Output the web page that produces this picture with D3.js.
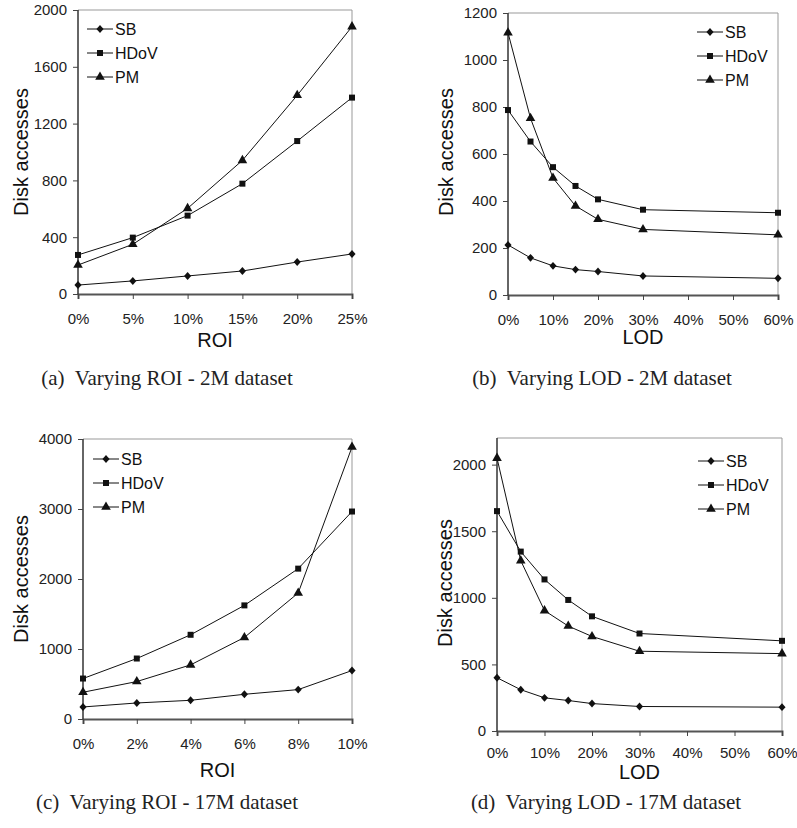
<!DOCTYPE html>
<html>
<head>
<meta charset="utf-8">
<script src="https://cdn.jsdelivr.net/npm/d3@7"></script>
<style>
  body { margin: 0; background: #fff; }
  svg { display: block; }
  .tick text { font-family: "Liberation Sans", Arial, sans-serif; font-size: 15px; fill: #222; }
</style>
</head>
<body>
<svg id="fig" width="797" height="828"></svg>
<script>
// series names
const seriesNames = ['SB', 'HDoV', 'PM'];

// (a) varying ROI - 2M
const roiA = [0, 5, 10, 15, 20, 25];
const sbA = [63, 92, 127, 162, 225, 282];
const hdovA = [275, 397, 552, 777, 1077, 1383];
const pmA = [204, 350, 603, 941, 1399, 1883];

// (b) varying LOD - 2M
const lodB = [0, 5, 10, 15, 20, 30, 60];
const sbB = [213, 158, 124, 108, 100, 81, 71];
const hdovB = [787, 653, 544, 464, 407, 363, 350];
const pmB = [1116, 752, 498, 379, 322, 279, 256];

// (c) varying ROI - 17M
const roiC = [0, 2, 4, 6, 8, 10];
const sbC = [172, 229, 267, 353, 420, 692];
const hdovC = [578, 864, 1203, 1623, 2148, 2964];
const pmC = [382, 535, 773, 1165, 1800, 3885];

// (d) varying LOD - 17M
const lodD = [0, 5, 10, 15, 20, 30, 60];
const sbD = [400, 310, 249, 229, 206, 184, 179];
const hdovD = [1651, 1347, 1138, 984, 861, 732, 677];
const pmD = [2049, 1279, 904, 788, 710, 599, 581];

// tick values
const ticksXa = [0, 5, 10, 15, 20, 25];
const ticksXb = [0, 10, 20, 30, 40, 50, 60];
const ticksXc = [0, 2, 4, 6, 8, 10];
const ticksYa = [0, 400, 800, 1200, 1600, 2000];
const ticksYb = [0, 200, 400, 600, 800, 1000, 1200];
const ticksYc = [0, 1000, 2000, 3000, 4000];
const ticksYd = [0, 500, 1000, 1500, 2000];

const captions = [
  '(a)  Varying ROI - 2M dataset',
  '(b)  Varying LOD - 2M dataset',
  '(c)  Varying ROI - 17M dataset',
  '(d)  Varying LOD - 17M dataset'
];

// diamond a bit squatter than d3's default one
const diamond = {
  draw(ctx, size) {
    const h = Math.sqrt(size) * 0.72, w = h * 0.9;
    ctx.moveTo(0, -h);
    ctx.lineTo(w, 0);
    ctx.lineTo(0, h);
    ctx.lineTo(-w, 0);
    ctx.closePath();
  }
};
const symbols = [diamond, d3.symbolSquare, d3.symbolTriangle];
const symSizes = [30, 36, 40];

const svg = d3.select('#fig');

const drawPanel = function(p) {
  let g = svg.append('g');

  let x = d3.scaleLinear().domain(p.xDomain).range([p.left, p.right]);
  let y = d3.scaleLinear().domain(p.yDomain).range([p.bottom, p.top]);

  // light frame (top / right)
  g.append('path')
    .attr('d', `M${p.left},${p.top}H${p.right}V${p.bottom}`)
    .attr('fill', 'none')
    .attr('stroke', '#999')
    .attr('stroke-width', 1);

  // axes
  let xAxis = g.append('g')
    .attr('transform', `translate(0,${p.bottom})`)
    .call(d3.axisBottom(x).tickValues(p.xTicks).tickSize(5).tickPadding(p.xPad)
      .tickFormat(d => d + '%'));
  xAxis.select('.domain').attr('stroke', '#555').attr('stroke-width', 2);
  xAxis.selectAll('.tick line').attr('stroke', '#444');

  let yAxis = g.append('g')
    .attr('transform', `translate(${p.left},0)`)
    .call(d3.axisLeft(y).tickValues(p.yTicks).tickSize(5).tickPadding(6)
      .tickFormat(d3.format('d')));
  yAxis.select('.domain').attr('stroke', '#333').attr('stroke-width', 1.5)
    .attr('d', `M0,${p.bottom}V${p.top}`);
  yAxis.selectAll('.tick line').attr('stroke', '#444');

  // axis titles
  g.append('text')
    .attr('transform', `translate(${p.yTitleX},${p.yTitleY}) rotate(-90)`)
    .attr('text-anchor', 'middle')
    .style('font-family', '"Liberation Sans", Arial, sans-serif')
    .style('font-size', '20px')
    .attr('fill', '#111')
    .text('Disk accesses');

  g.append('text')
    .attr('x', (p.left + p.right) / 2)
    .attr('y', p.xTitleY)
    .attr('text-anchor', 'middle')
    .style('font-family', '"Liberation Sans", Arial, sans-serif')
    .style('font-size', '20px')
    .attr('fill', '#111')
    .text(p.xTitle);

  // lines + markers
  p.series.forEach((vals, i) => {
    let pts = vals.map((v, j) => [p.xs[j], v]);
    g.append('path')
      .datum(pts)
      .attr('fill', 'none')
      .attr('stroke', '#111')
      .attr('stroke-width', 1)
      .attr('d', d3.line().x(d => x(d[0])).y(d => y(d[1])));
    g.selectAll(null)
      .data(pts)
      .enter()
      .append('path')
      .attr('transform', d => `translate(${x(d[0])},${y(d[1])})`)
      .attr('d', d3.symbol().type(symbols[i]).size(symSizes[i]))
      .attr('fill', '#111');
  });

  // legend
  seriesNames.forEach((name, i) => {
    let ly = p.legY + i * 24;
    g.append('line')
      .attr('x1', p.legX).attr('x2', p.legX + 26)
      .attr('y1', ly).attr('y2', ly)
      .attr('stroke', '#111').attr('stroke-width', 1);
    g.append('path')
      .attr('transform', `translate(${p.legX + 13},${ly})`)
      .attr('d', d3.symbol().type(symbols[i]).size(symSizes[i]))
      .attr('fill', '#111');
    g.append('text')
      .attr('x', p.legX + 28)
      .attr('y', ly + 6)
      .style('font-family', '"Liberation Sans", Arial, sans-serif')
      .style('font-size', '16px')
      .attr('fill', '#111')
      .text(name);
  });

  // caption
  g.append('text')
    .attr('x', p.capX)
    .attr('y', p.capY)
    .attr('text-anchor', 'middle')
    .style('font-family', '"Liberation Serif", "Times New Roman", serif')
    .style('font-size', '21px')
    .attr('fill', '#222')
    .attr('xml:space', 'preserve')
    .style('white-space', 'pre')
    .text(p.caption);
};

drawPanel({
  xs: roiA, series: [sbA, hdovA, pmA],
  xDomain: [0, 25], yDomain: [0, 2000], xTicks: ticksXa, yTicks: ticksYa,
  left: 78, right: 352, top: 10, bottom: 294, xPad: 14,
  yTitleX: 28, yTitleY: 152, xTitle: 'ROI', xTitleY: 347,
  legX: 87, legY: 29, caption: captions[0], capX: 167, capY: 385
});

drawPanel({
  xs: lodB, series: [sbB, hdovB, pmB],
  xDomain: [0, 60], yDomain: [0, 1200], xTicks: ticksXb, yTicks: ticksYb,
  left: 508, right: 778, top: 13, bottom: 295, xPad: 14,
  yTitleX: 453, yTitleY: 152, xTitle: 'LOD', xTitleY: 344,
  legX: 697, legY: 32, caption: captions[1], capX: 602, capY: 385
});

drawPanel({
  xs: roiC, series: [sbC, hdovC, pmC],
  xDomain: [0, 10], yDomain: [0, 4000], xTicks: ticksXc, yTicks: ticksYc,
  left: 83, right: 352, top: 439, bottom: 719, xPad: 14,
  yTitleX: 28, yTitleY: 579, xTitle: 'ROI', xTitleY: 777,
  legX: 93, legY: 459, caption: captions[2], capX: 167, capY: 809
});

drawPanel({
  xs: lodD, series: [sbD, hdovD, pmD],
  xDomain: [0, 60], yDomain: [0, 2200], xTicks: ticksXb, yTicks: ticksYd,
  left: 497, right: 782, top: 438, bottom: 731, xPad: 11,
  yTitleX: 452, yTitleY: 583, xTitle: 'LOD', xTitleY: 779,
  legX: 698, legY: 461, caption: captions[3], capX: 606, capY: 809
});
</script>
</body>
</html>
